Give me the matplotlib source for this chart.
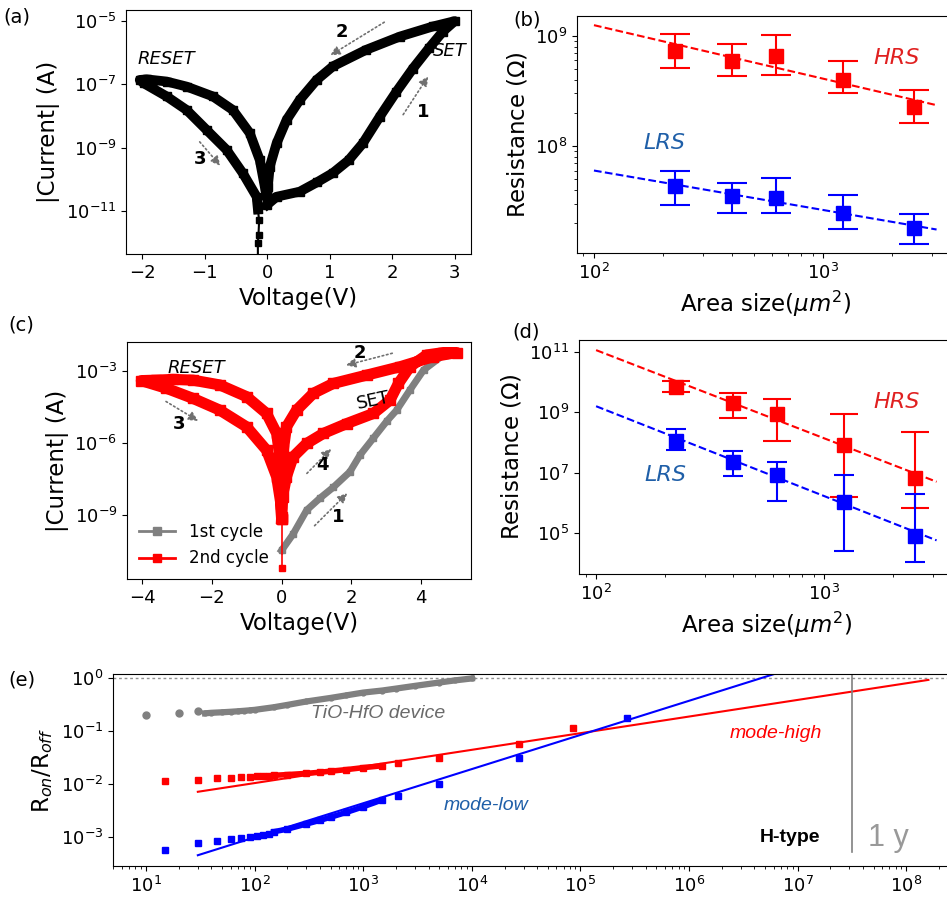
import numpy as np
import matplotlib
matplotlib.use('Agg')
import matplotlib.pyplot as plt
from matplotlib.lines import Line2D
from matplotlib.ticker import NullLocator, NullFormatter, LogLocator

# ---- panel (a): I-V loop, log10 of |I| ----
a_volt = [0.0, 0.15, 0.52, 0.79, 1.05, 1.30, 1.53, 1.80, 2.06, 2.33, 2.59, 2.81, 3.0,
          2.65, 2.12, 1.58, 1.05, 0.79, 0.52, 0.31, 0.15, 0.04, 0.01, 0.0,
          -0.04, -0.12, -0.28, -0.55, -0.87, -1.29, -1.61, -1.93, -2.04,
          -1.98, -1.61, -1.29, -0.97, -0.65, -0.39, -0.17, -0.15]
a_logi = [-10.8, -10.55, -10.39, -10.1, -9.8, -9.4, -8.86, -8.02, -7.25, -6.5, -5.85, -5.33, -5.0,
          -5.17, -5.49, -5.91, -6.43, -6.86, -7.49, -8.12, -8.86, -9.6, -10.23, -10.65,
          -10.23, -9.39, -8.54, -7.81, -7.38, -7.07, -6.91, -6.84, -6.86,
          -6.96, -7.38, -7.81, -8.44, -9.07, -9.81, -10.55, -10.95]
# tail of the sweep below 1e-11
a_tail_volt = [-0.15, -0.13, -0.14, -0.15, -0.15]
a_tail_logi = [-10.95, -11.3, -11.75, -12.0, -12.5]

# ---- panel (c): two cycles ----
c1_volt = [0.0, 0.33, 0.72, 1.10, 1.48, 1.96, 2.25, 2.63, 3.01, 3.30, 3.68, 4.07, 4.64, 5.02]
c1_logi = [-10.48, -9.8, -8.8, -8.3, -7.85, -7.2, -6.5, -5.8, -5.1, -4.63, -3.79, -2.96, -2.33, -2.23]
c2_volt = [0.0, 0.0, 0.03, 0.14, 0.33, 0.72, 1.20, 1.87, 2.63, 3.11, 3.35, 3.68, 4.16, 4.64, 5.02,
           4.35, 3.40, 2.44, 1.48, 0.91, 0.43, 0.14, 0.05, 0.0, 0.0,
           -0.05, -0.14, -0.43, -1.0, -1.77, -2.54, -3.11, -3.59, -4.02,
           -3.30, -2.54, -1.77, -1.0, -0.43, -0.14, -0.02, 0.0]
c2_logi = [-11.22, -9.16, -8.25, -7.41, -6.58, -6.02, -5.60, -5.19, -4.77, -4.21, -3.52, -2.82, -2.33, -2.23,
           -2.23, -2.40, -2.82, -3.17, -3.52, -3.93, -4.63, -5.33, -6.30, -7.41, -9.09,
           -6.58, -5.60, -4.77, -4.07, -3.58, -3.38, -3.35, -3.38, -3.40,
           -3.72, -4.14, -4.63, -5.33, -6.30, -7.41, -8.53, -9.16]

# ---- panels (b), (d): resistance vs area ----
area = [225, 400, 625, 1225, 2500]
b_hrs = [7.3e8, 5.96e8, 6.5e8, 4.0e8, 2.27e8]
b_hrs_hi = [1.05e9, 8.5e8, 1.02e9, 5.9e8, 3.2e8]
b_hrs_lo = [5.1e8, 4.3e8, 4.4e8, 3.0e8, 1.62e8]
b_lrs = [4.3e7, 3.5e7, 3.4e7, 2.47e7, 1.79e7]
b_lrs_hi = [5.96e7, 4.6e7, 5.1e7, 3.6e7, 2.4e7]
b_lrs_lo = [2.92e7, 2.45e7, 2.48e7, 1.76e7, 1.29e7]
b_fit_x = [100, 3130]
b_fit_hrs = [1.25e9, 2.35e8]
b_fit_lrs = [6.0e7, 1.75e7]

d_hrs = [7.1e9, 2.1e9, 9.1e8, 8.6e7, 6.5e6]
d_hrs_hi = [1.07e10, 4.5e9, 2.7e9, 9.1e8, 2.3e8]
d_hrs_lo = [4.6e9, 6.7e8, 1.1e8, 1.55e6, 6.9e5]
d_lrs = [1.16e8, 2.18e7, 8.7e6, 1.04e6, 8.2e4]
d_lrs_hi = [2.8e8, 5.1e7, 2.3e7, 8.1e6, 2.0e6]
d_lrs_lo = [5.7e7, 7.5e6, 1.17e6, 2.5e4, 1.07e4]
d_fit_x = [100, 3120]
d_fit_hrs = [1.16e11, 5.0e6]
d_fit_lrs = [1.6e9, 5.7e4]

# ---- panel (e): Ron/Roff vs time ----
g_time = [10, 20, 30, 35, 40, 50, 60, 70, 80, 90, 100, 150, 200, 300, 500, 700, 1000, 1500,
          2000, 3000, 5000, 7000, 10000]
g_ratio = [0.20, 0.22, 0.24, 0.215, 0.22, 0.225, 0.23, 0.235, 0.24, 0.245, 0.25, 0.28, 0.31, 0.36,
           0.42, 0.47, 0.53, 0.58, 0.63, 0.71, 0.82, 0.9, 0.98]
r_time = [15, 30, 45, 60, 75, 90, 105, 120, 135, 150, 200, 300, 400, 500, 700, 1000, 1500,
          2100, 5000, 27000, 85000]
r_ratio = [0.0114, 0.0119, 0.0128, 0.0132, 0.0135, 0.0137, 0.0139, 0.0141, 0.0143, 0.0145,
           0.015, 0.0158, 0.0166, 0.0174, 0.0186, 0.0203, 0.022, 0.0245, 0.031, 0.057, 0.114]
bl_time = [15, 30, 45, 60, 75, 90, 105, 120, 135, 150, 200, 300, 400, 500, 700, 1000, 1500,
           2100, 5000, 27000, 270000]
bl_ratio = [5.6e-4, 7.7e-4, 8.5e-4, 9.1e-4, 9.6e-4, 1.0e-3, 1.05e-3, 1.1e-3, 1.15e-3, 1.25e-3,
            1.4e-3, 1.75e-3, 2.05e-3, 2.35e-3, 2.9e-3, 3.7e-3, 5.0e-3, 5.9e-3, 0.010, 0.031, 0.176]
r_fit_t = [30, 1.6e8]
r_fit = [0.0071, 0.92]
bl_fit_t = [30, 7e6]
bl_fit = [4.5e-4, 1.3]
one_year = 3.15e7

LRS_COL = '#1f5fa8'
ARR = dict(arrowstyle='-|>', linestyle=':', color='#707070', lw=1.2, mutation_scale=14)

plt.rcParams['font.size'] = 13
plt.rcParams['xtick.labelsize'] = 13
plt.rcParams['ytick.labelsize'] = 13
plt.rcParams['axes.labelsize'] = 16.5

fig = plt.figure(figsize=(9.47, 9.02), dpi=100)
W, H = 947.0, 902.0


def place(l, t, r, b):
    return fig.add_axes([l / W, 1 - b / H, (r - l) / W, (b - t) / H])


# (a)
ax = place(126, 10, 471, 254)
ax.plot(a_volt, 10 ** np.array(a_logi), '-s', color='k', lw=7, ms=6)
ax.plot(a_tail_volt, 10 ** np.array(a_tail_logi), '-s', color='k', lw=1.5, ms=5)
ax.set_yscale('log')
ax.set_xlim(-2.26, 3.26)
ax.set_ylim(10 ** -12.36, 10 ** -4.65)
ax.set_yticks([1e-11, 1e-9, 1e-7, 1e-5])
ax.yaxis.set_minor_locator(NullLocator())
ax.set_xticks([-2, -1, 0, 1, 2, 3])
ax.set_xlabel('Voltage(V)')
ax.set_ylabel('|Current| (A)')
ax.text(-1.62, 10 ** -6.19, 'RESET', style='italic', ha='center', va='center', fontsize=13)
ax.text(2.92, 10 ** -5.94, 'SET', style='italic', ha='center', va='center', fontsize=13)
ax.annotate('', xy=(0.97, 10 ** -6.13), xytext=(1.91, 10 ** -4.99), arrowprops=ARR)
ax.text(1.19, 10 ** -5.34, '2', weight='bold', ha='center', va='center')
ax.annotate('', xy=(2.60, 10 ** -6.67), xytext=(2.15, 10 ** -8.03), arrowprops=ARR)
ax.text(2.49, 10 ** -7.87, '1', weight='bold', ha='center', va='center')
ax.annotate('', xy=(-0.72, 10 ** -9.64), xytext=(-1.11, 10 ** -8.75), arrowprops=ARR)
ax.text(-1.07, 10 ** -9.35, '3', weight='bold', ha='center', va='center')

# (b)
ax = place(577, 16, 955, 253)
ax.errorbar(area, b_hrs, yerr=[np.array(b_hrs) - b_hrs_lo, np.array(b_hrs_hi) - b_hrs],
            fmt='s', color='red', ms=10, capsize=11, elinewidth=1.5, capthick=1.5)
ax.errorbar(area, b_lrs, yerr=[np.array(b_lrs) - b_lrs_lo, np.array(b_lrs_hi) - b_lrs],
            fmt='s', color='blue', ms=10, capsize=11, elinewidth=1.5, capthick=1.5)
ax.plot(b_fit_x, b_fit_hrs, '--', color='red', lw=1.5)
ax.plot(b_fit_x, b_fit_lrs, '--', color='blue', lw=1.5)
ax.set_xscale('log')
ax.set_yscale('log')
ax.set_xlim(10 ** 1.926, 10 ** 3.576)
ax.set_ylim(10 ** 7.03, 10 ** 9.18)
ax.set_yticks([1e8, 1e9])
ax.yaxis.set_minor_formatter(NullFormatter())
ax.set_xticks([1e2, 1e3])
ax.xaxis.set_minor_formatter(NullFormatter())
ax.set_xlabel(r'Area size($\mu m^2$)')
ax.set_ylabel(r'Resistance ($\Omega$)')
ax.text(2085, 6.3e8, 'HRS', color='#e02020', style='italic', fontsize=16, ha='center', va='center')
ax.text(204, 1.07e8, 'LRS', color=LRS_COL, style='italic', fontsize=16, ha='center', va='center')

# (c)
ax = place(127, 342, 471, 579)
ax.plot(c1_volt, 10 ** np.array(c1_logi), '-s', color='#808080', lw=5, ms=5)
ax.plot(c2_volt[:2], 10 ** np.array(c2_logi[:2]), '-s', color='red', lw=1.2, ms=5)
ax.plot(c2_volt[1:], 10 ** np.array(c2_logi[1:]), '-s', color='red', lw=8, ms=7)
ax.set_yscale('log')
ax.set_xlim(-4.43, 5.43)
ax.set_ylim(10 ** -11.67, 10 ** -1.79)
ax.set_yticks([1e-9, 1e-6, 1e-3])
ax.yaxis.set_minor_locator(NullLocator())
ax.set_xticks([-4, -2, 0, 2, 4])
ax.set_xlabel('Voltage(V)')
ax.set_ylabel('|Current| (A)')
ax.text(-2.44, 10 ** -2.89, 'RESET', style='italic', ha='center', va='center', fontsize=13)
ax.text(2.63, 10 ** -4.24, 'SET', rotation=12, ha='center', va='center', fontsize=13)
ax.annotate('', xy=(1.77, 10 ** -2.79), xytext=(3.25, 10 ** -2.23), arrowprops=ARR)
ax.text(2.25, 10 ** -2.23, '2', weight='bold', ha='center', va='center')
ax.annotate('', xy=(1.48, 10 ** -6.16), xytext=(0.67, 10 ** -7.35), arrowprops=ARR)
ax.text(1.18, 10 ** -6.93, '4', weight='bold', ha='center', va='center')
ax.annotate('', xy=(1.94, 10 ** -8.01), xytext=(0.89, 10 ** -9.53), arrowprops=ARR)
ax.text(1.63, 10 ** -9.09, '1', weight='bold', ha='center', va='center')
ax.annotate('', xy=(-2.32, 10 ** -5.14), xytext=(-3.38, 10 ** -4.21), arrowprops=ARR)
ax.text(-2.95, 10 ** -5.19, '3', weight='bold', ha='center', va='center')
handles = [Line2D([], [], color='#808080', marker='s', lw=2, ms=6),
           Line2D([], [], color='red', marker='s', lw=2, ms=6)]
ax.legend(handles, ['1st cycle', '2nd cycle'], loc='lower left', frameon=False,
          fontsize=12, handlelength=2.2, borderaxespad=0.3)

# (d)
ax = place(579, 340, 955, 574)
ax.errorbar(area, d_hrs, yerr=[np.array(d_hrs) - d_hrs_lo, np.array(d_hrs_hi) - d_hrs],
            fmt='s', color='red', ms=10, capsize=10, elinewidth=1.5, capthick=1.5)
ax.errorbar(area, d_lrs, yerr=[np.array(d_lrs) - d_lrs_lo, np.array(d_lrs_hi) - d_lrs],
            fmt='s', color='blue', ms=10, capsize=7, elinewidth=1.5, capthick=1.5)
ax.plot(d_fit_x, d_fit_hrs, '--', color='red', lw=1.5)
ax.plot(d_fit_x, d_fit_lrs, '--', color='blue', lw=1.5)
ax.set_xscale('log')
ax.set_yscale('log')
ax.set_xlim(10 ** 1.925, 10 ** 3.575)
ax.set_ylim(10 ** 3.64, 10 ** 11.4)
ax.set_yticks([1e5, 1e7, 1e9, 1e11])
ax.yaxis.set_minor_locator(NullLocator())
ax.set_xticks([1e2, 1e3])
ax.xaxis.set_minor_formatter(NullFormatter())
ax.set_xlabel(r'Area size($\mu m^2$)')
ax.set_ylabel(r'Resistance ($\Omega$)')
ax.text(2085, 10 ** 9.33, 'HRS', color='#e02020', style='italic', fontsize=16, ha='center', va='center')
ax.text(201, 8.6e6, 'LRS', color=LRS_COL, style='italic', fontsize=16, ha='center', va='center')

# (e)
ax = place(113, 674, 955, 866)
ax.axhline(1.0, color='#909090', lw=1, ls=(0, (2, 2)))
ax.plot(g_time[:3], g_ratio[:3], 'o', color='#808080', ms=5)
ax.plot(g_time[3:], g_ratio[3:], '-o', color='#808080', lw=4.5, ms=3.5)
ax.plot(r_time, r_ratio, 's', color='red', ms=4)
ax.plot(r_time[9:17], r_ratio[9:17], '-', color='red', lw=4)
ax.plot(bl_time, bl_ratio, 's', color='blue', ms=4)
ax.plot(bl_time[9:17], bl_ratio[9:17], '-', color='blue', lw=4)
ax.plot(r_fit_t, r_fit, '-', color='red', lw=1.5)
ax.plot(bl_fit_t, bl_fit, '-', color='blue', lw=1.5)
ax.axvline(one_year, ymin=0.073, ymax=1, color='#808080', lw=1.2)
ax.set_xscale('log')
ax.set_yscale('log')
ax.set_xlim(10 ** 0.696, 10 ** 8.449)
ax.set_ylim(10 ** -3.55, 10 ** 0.075)
ax.set_yticks([1e-3, 1e-2, 1e-1, 1e0])
ax.yaxis.set_minor_locator(NullLocator())
ax.set_xticks([10 ** k for k in range(1, 9)])
ax.xaxis.set_minor_locator(LogLocator(base=10, subs=np.arange(2, 10), numticks=20))
ax.xaxis.set_minor_formatter(NullFormatter())
ax.set_ylabel(r'R$_{on}$/R$_{off}$')
ax.text(1380, 0.215, 'TiO-HfO device', color='#6a6a6a', style='italic', fontsize=14,
        family='Liberation Sans', ha='center', va='center')
ax.text(13500, 3.85e-3, 'mode-low', color=LRS_COL, style='italic', fontsize=14,
        family='Liberation Sans', ha='center', va='center')
ax.text(6.3e6, 0.0877, 'mode-high', color='red', style='italic', fontsize=14,
        family='Liberation Sans', ha='center', va='center')
ax.text(8.5e6, 9.6e-4, 'H-type', color='k', weight='bold', fontsize=14,
        family='Liberation Sans', ha='center', va='center')
ax.text(6.9e7, 9.6e-4, '1 y', color='#999999', fontsize=22,
        family='Liberation Sans', ha='center', va='center')

# panel letters
fig.text(3 / W, 1 - 17 / H, '(a)', fontsize=14, va='center')
fig.text(513 / W, 1 - 20 / H, '(b)', fontsize=14, va='center')
fig.text(8 / W, 1 - 325 / H, '(c)', fontsize=14, va='center')
fig.text(512 / W, 1 - 332 / H, '(d)', fontsize=14, va='center')
fig.text(8 / W, 1 - 680 / H, '(e)', fontsize=14, va='center')

fig.savefig('out.png', dpi=100)
